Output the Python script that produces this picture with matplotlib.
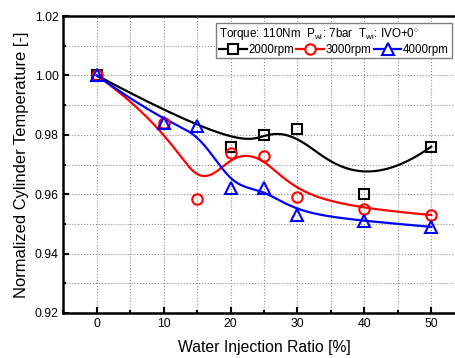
import numpy as np
import matplotlib
matplotlib.use('Agg')
import matplotlib.pyplot as plt
from matplotlib.ticker import MultipleLocator

plt.rcParams['font.family'] = ['Liberation Sans', 'DejaVu Sans']
plt.rcParams['mathtext.fontset'] = 'custom'
plt.rcParams['mathtext.rm'] = 'Liberation Sans'
plt.rcParams['mathtext.it'] = 'Liberation Sans'

# ── data ───────────────────────────────────────────────────────────────────
x_2000 = [0, 20, 25, 30, 40, 50]
y_2000 = [1.000, 0.976, 0.980, 0.982, 0.960, 0.976]

x_3000 = [0, 10, 15, 20, 25, 30, 40, 50]
y_3000 = [1.000, 0.984, 0.9585, 0.974, 0.973, 0.959, 0.955, 0.953]

x_4000 = [0, 10, 15, 20, 25, 30, 40, 50]
y_4000 = [1.000, 0.984, 0.983, 0.962, 0.962, 0.953, 0.951, 0.949]

SERIES = [
    ('2000rpm', x_2000, y_2000, 'black', 's', 6.5),
    ('3000rpm', x_3000, y_3000, 'red', 'o', 7.5),
    ('4000rpm', x_4000, y_4000, 'blue', '^', 8.5),
]


def bspline(xs, ys, n=300, k=3):
    """Clamped uniform B-spline using the points as control points (Origin-style)."""
    P = np.column_stack([xs, ys]).astype(float)
    m = len(P)
    k = min(k, m - 1)
    inner = np.linspace(0, 1, m - k + 1)
    t = np.concatenate([np.zeros(k), inner, np.ones(k)])
    u = np.linspace(0, 1, n)
    u[-1] = 1 - 1e-12
    out = []
    for uu in u:
        j = np.searchsorted(t, uu, side='right') - 1
        j = min(max(j, k), m - 1)
        d = [P[j - k + i].copy() for i in range(k + 1)]
        for r in range(1, k + 1):
            for i in range(k, r - 1, -1):
                a = (uu - t[i + j - k]) / (t[i + 1 + j - r] - t[i + j - k])
                d[i] = (1 - a) * d[i - 1] + a * d[i]
        out.append(d[k])
    out = np.array(out)
    return out[:, 0], out[:, 1]


fig = plt.figure(figsize=(4.56, 3.58), dpi=100)
ax = fig.add_axes([0.139, 0.1257, 0.88, 0.8296])

for label, xs, ys, col, mk, ms in SERIES:
    cx, cy = bspline(xs, ys)
    ax.plot(cx, cy, color=col, lw=1.6, zorder=3)
    ax.plot(xs, ys, ls='none', marker=mk, ms=ms,
            mfc='none', mec=col, mew=1.5, zorder=4)
    # legend proxy: line + marker
    ax.plot([], [], color=col, lw=1.6, marker=mk, ms=ms,
            mfc='white', mec=col, mew=1.5, label=label)

ax.set_xlim(-5, 55)
ax.set_ylim(0.92, 1.02)
ax.xaxis.set_major_locator(MultipleLocator(10))
ax.xaxis.set_minor_locator(MultipleLocator(5))
ax.yaxis.set_major_locator(MultipleLocator(0.02))
ax.yaxis.set_minor_locator(MultipleLocator(0.01))
ax.yaxis.set_major_formatter(plt.FormatStrFormatter('%.2f'))
ax.tick_params(which='both', direction='in', labelsize=8.8, width=1.5)
ax.tick_params(which='major', length=4)
ax.tick_params(which='minor', length=2.5)
ax.grid(which='both', ls=':', color='#909090', lw=0.8)
ax.set_axisbelow(True)
for s in ax.spines.values():
    s.set_linewidth(1.8)

ax.set_xlabel('Water Injection Ratio [%]', fontsize=11.3, labelpad=7)
ax.set_ylabel('Normalized Cylinder Temperature [-]', fontsize=11.9, labelpad=4)

leg = ax.legend(ncol=3, loc='upper left', bbox_to_anchor=(216 / 456, 1 - 23 / 358),
                bbox_transform=fig.transFigure, borderaxespad=0, fontsize=8.3,
                title=r'Torque: 110Nm  P$_{\mathrm{wi}}$: 7bar  T$_{\mathrm{wi}}$: IVO+0$^{\circ}$',
                title_fontsize=8.4, handlelength=2.4, handletextpad=0.15,
                columnspacing=0.2, borderpad=0.25, labelspacing=0.15,
                fancybox=False, edgecolor='#808080', framealpha=1)
leg._legend_box.align = 'left'
leg.get_frame().set_linewidth(1.0)

fig.savefig('out.png', dpi=100)
